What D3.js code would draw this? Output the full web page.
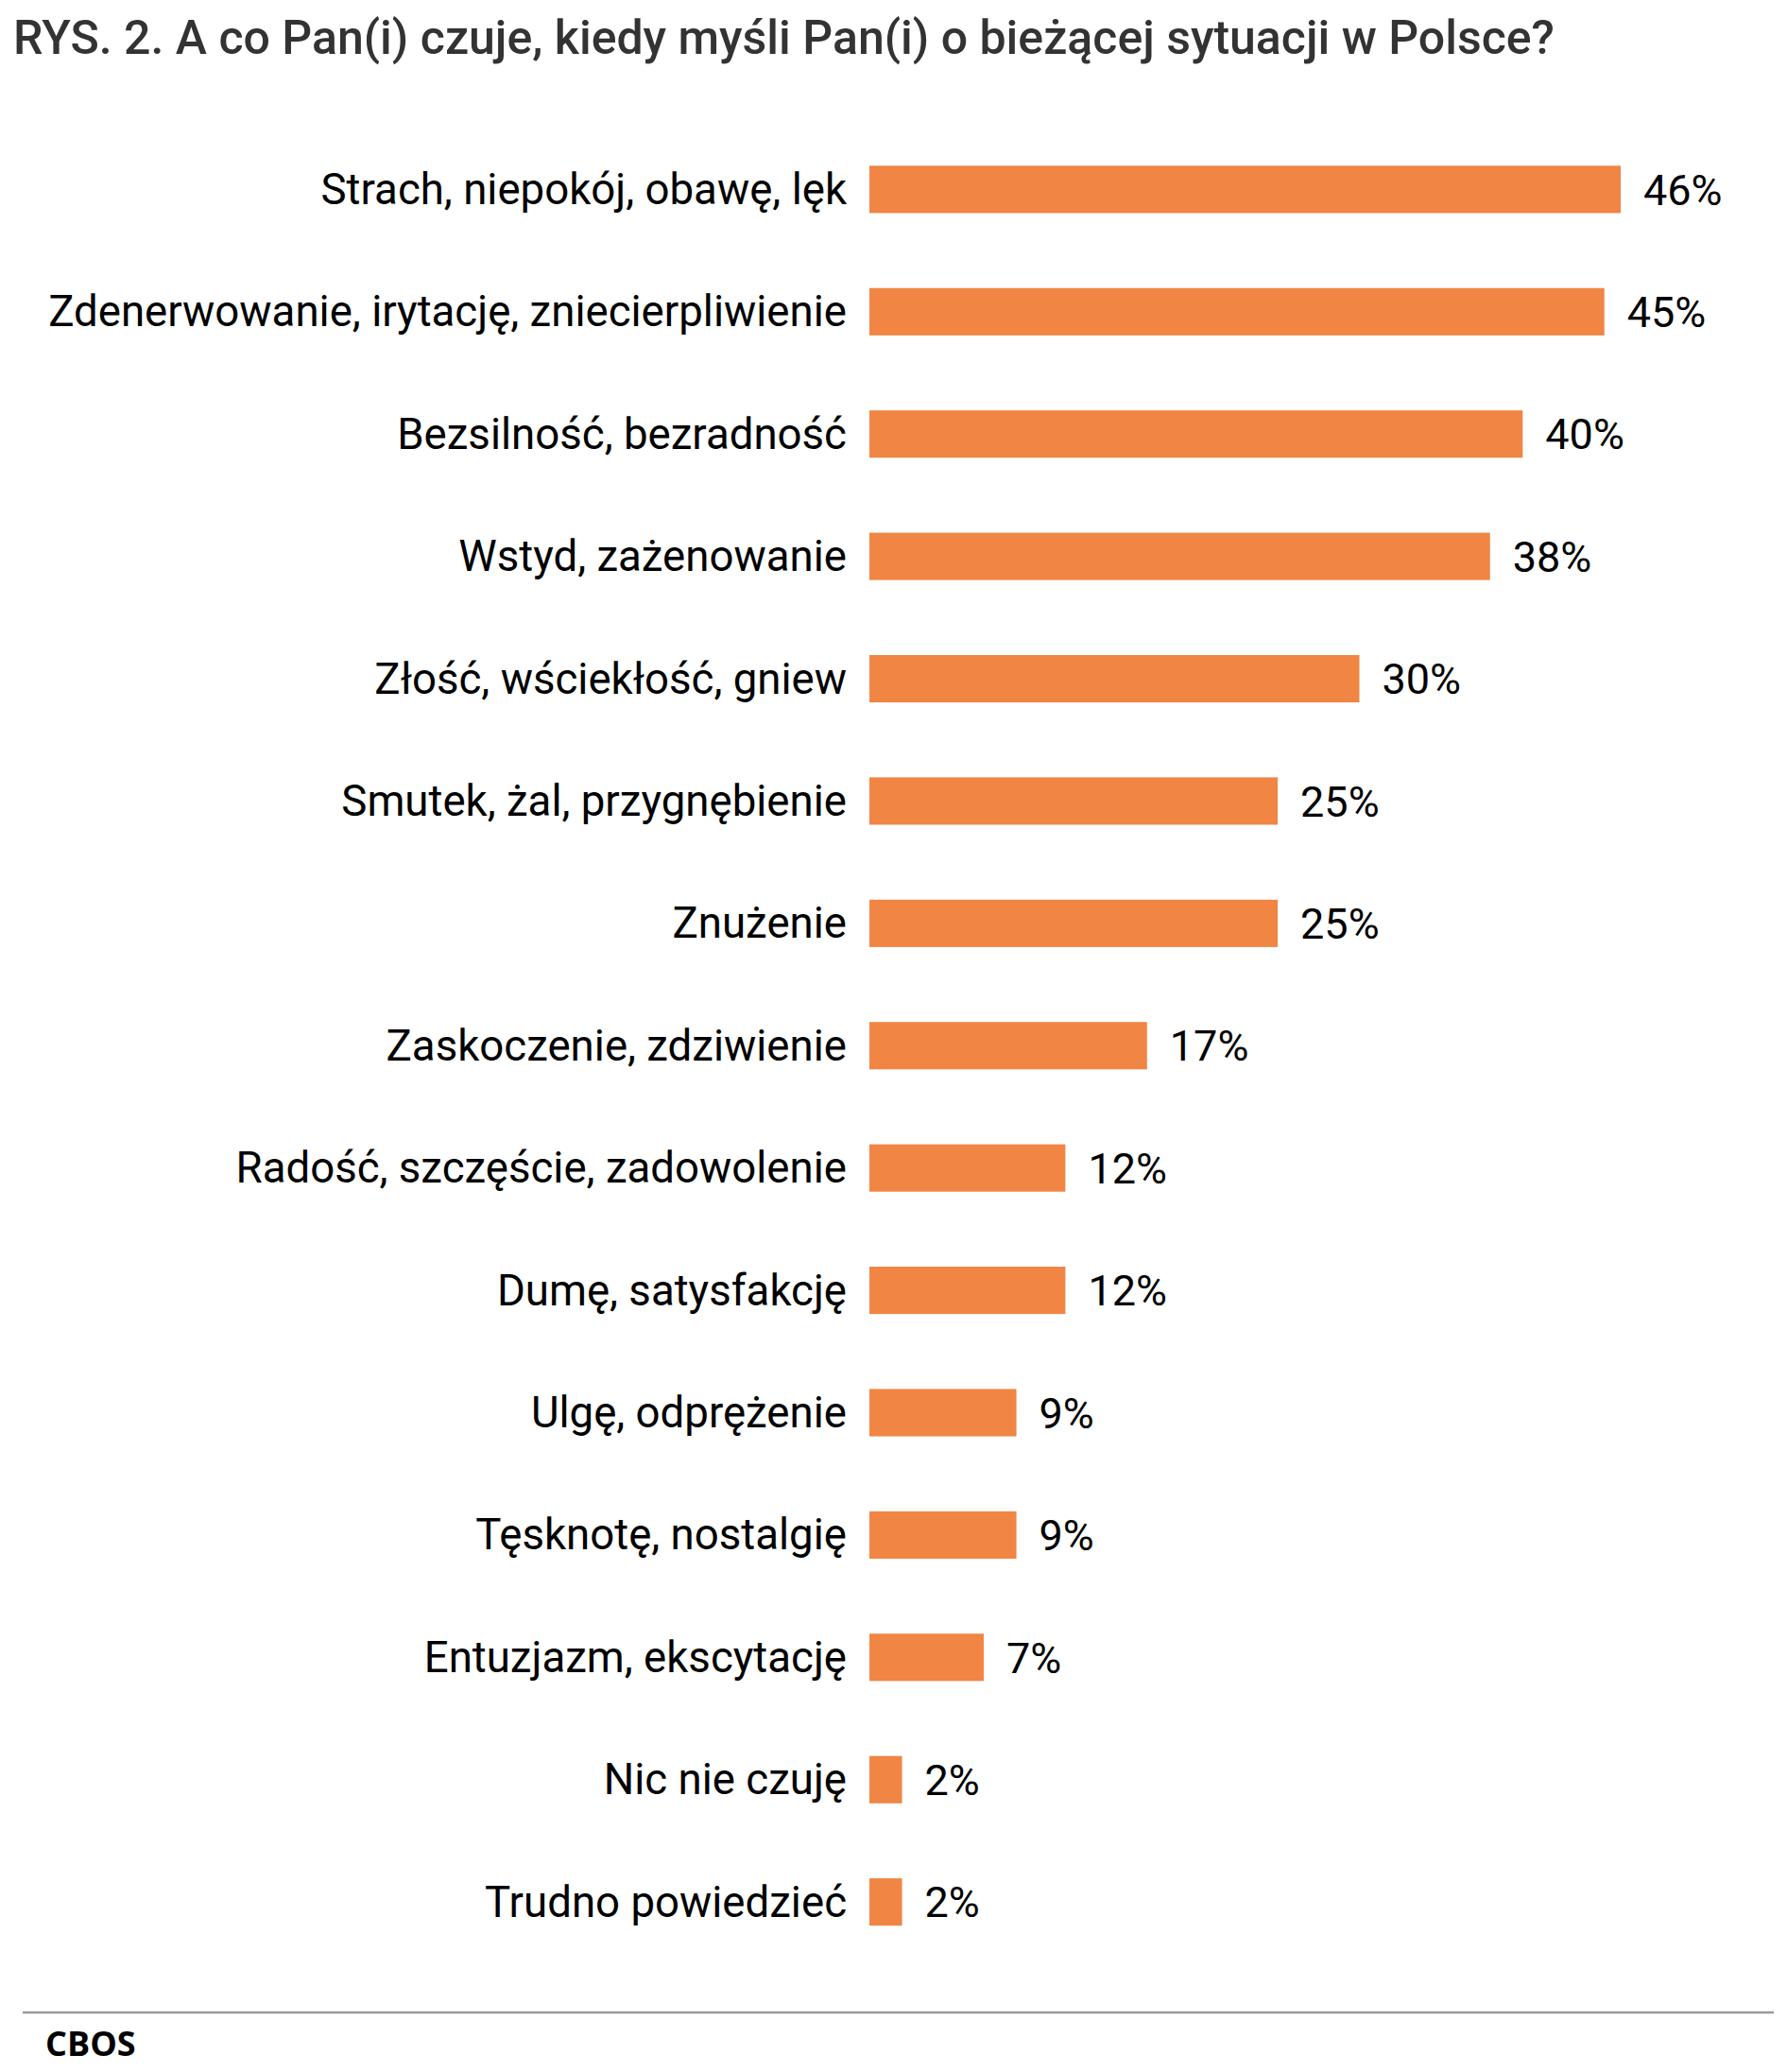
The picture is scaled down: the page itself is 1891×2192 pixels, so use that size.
<!DOCTYPE html>
<html><head><meta charset="utf-8">
<script src="https://cdn.jsdelivr.net/npm/d3@7"></script>
<style>html,body{margin:0;padding:0;background:#fff;}</style>
</head><body>
<script>
const categories = ["Strach, niepokój, obawę, lęk","Zdenerwowanie, irytację, zniecierpliwienie","Bezsilność, bezradność","Wstyd, zażenowanie","Złość, wściekłość, gniew","Smutek, żal, przygnębienie","Znużenie","Zaskoczenie, zdziwienie","Radość, szczęście, zadowolenie","Dumę, satysfakcję","Ulgę, odprężenie","Tęsknotę, nostalgię","Entuzjazm, ekscytację","Nic nie czuję","Trudno powiedzieć"];
const values = [46,45,40,38,30,25,25,17,12,12,9,9,7,2,2];
const valueLabels = ["46%","45%","40%","38%","30%","25%","25%","17%","12%","12%","9%","9%","7%","2%","2%"];
const title = "RYS. 2. A co Pan(i) czuje, kiedy myśli Pan(i) o bieżącej sytuacji w Polsce?";
const source = "CBOS";

const W = 1891, H = 2192;
const svg = d3.select("body").append("svg").attr("width", W).attr("height", H);

const x = d3.scaleLinear().domain([0, 46]).range([920, 1715]);
const y = d3.scaleBand().domain(categories).range([136.5, 2076]).paddingInner(0.613).paddingOuter(0.3);

const t = svg.append("text").attr("x", 14).attr("y", 57)
  .attr("font-family", "Roboto").attr("font-weight", 500).attr("font-size", 45)
  .attr("fill", "#333").text(title);
const tl = t.node().getComputedTextLength();
t.attr("font-size", (45 * 1631 / tl).toFixed(2));

const g = svg.append("g");
g.selectAll("rect").data(categories).join("rect")
  .attr("x", x(0)).attr("y", d => y(d))
  .attr("width", (d,i) => x(values[i]) - x(0))
  .attr("height", y.bandwidth()).attr("fill", "#F08544");

g.selectAll("text.cat").data(categories).join("text").attr("class","cat")
  .attr("x", 896).attr("y", d => y(d) + y.bandwidth()/2)
  .attr("dy", "0.34em").attr("text-anchor", "end")
  .attr("font-family", "Roboto").attr("font-size", 45.6).attr("fill", "#000")
  .text(d => d);

g.selectAll("text.val").data(categories).join("text").attr("class","val")
  .attr("x", (d,i) => x(values[i]) + 24).attr("y", d => y(d) + y.bandwidth()/2)
  .attr("dy", "0.36em")
  .attr("font-family", "Roboto").attr("font-size", 45).attr("fill", "#000")
  .text((d,i) => valueLabels[i]);

svg.append("line").attr("x1", 24).attr("x2", 1877).attr("y1", 2129).attr("y2", 2129)
  .attr("stroke", "#999").attr("stroke-width", 2.5);

svg.append("text").attr("x", 48).attr("y", 2175)
  .attr("font-family", "Open Sans").attr("font-weight", 700).attr("font-size", 36)
  .attr("fill", "#000").text(source);
</script>
</body></html>
